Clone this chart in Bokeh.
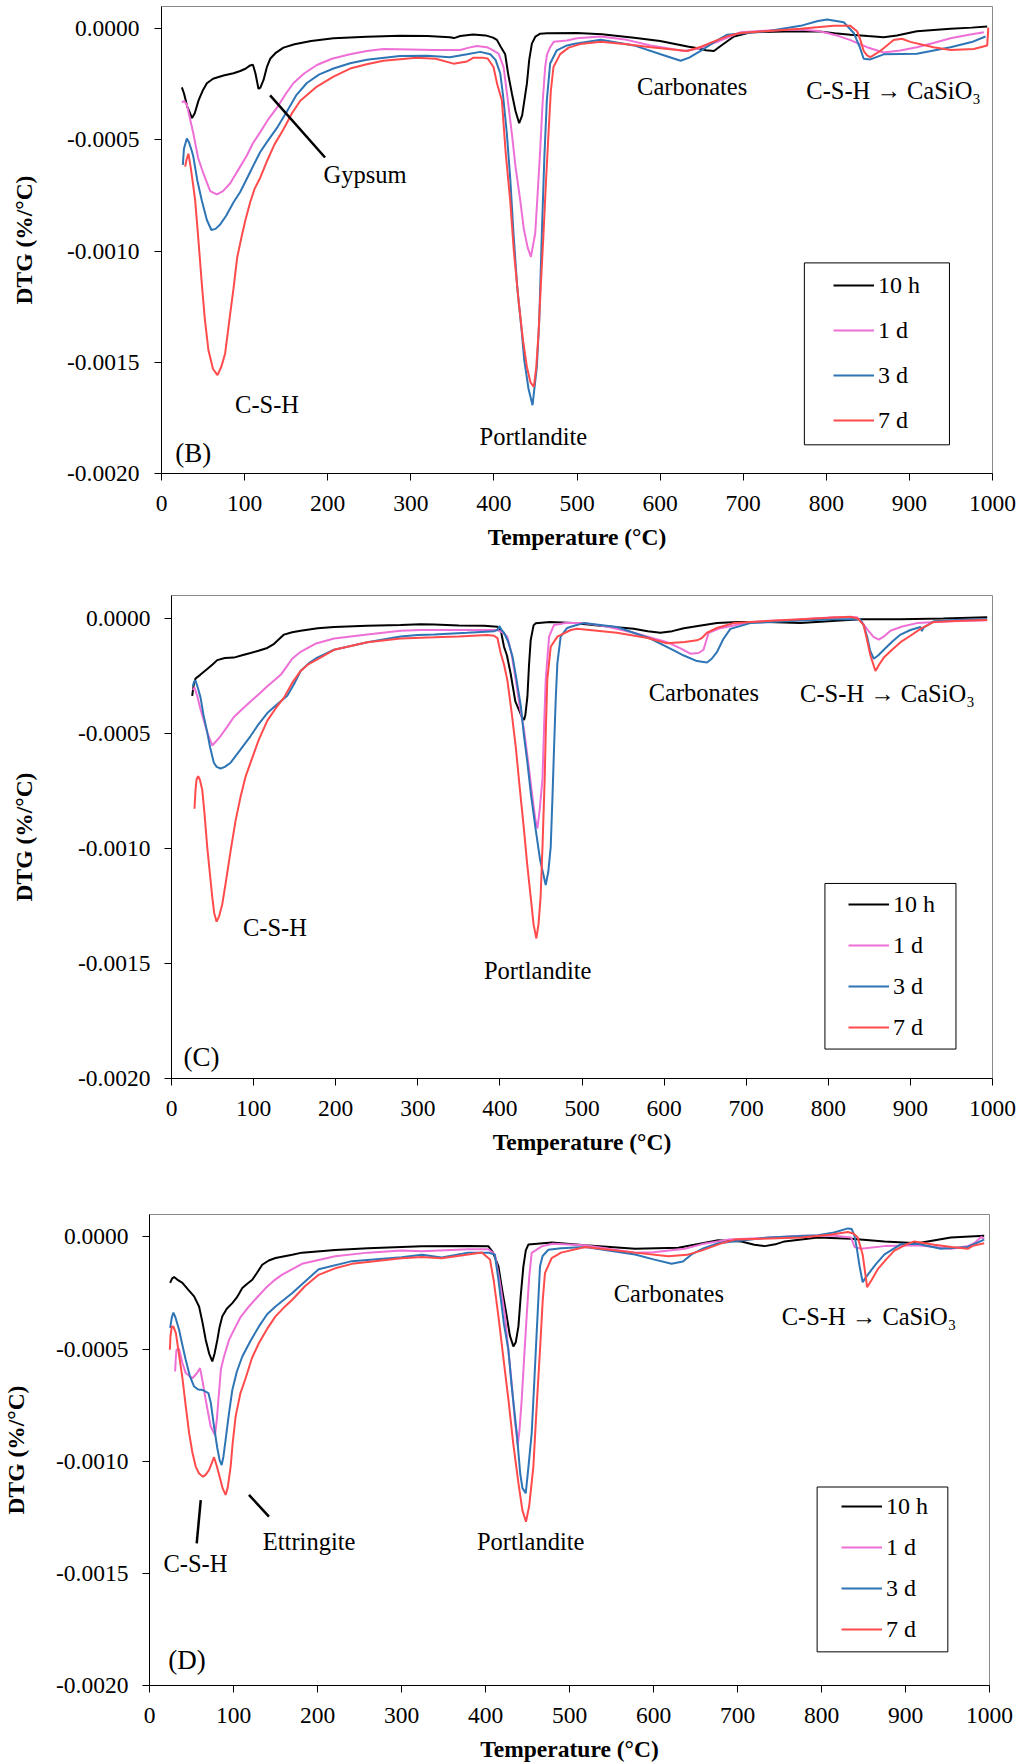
from bokeh.plotting import figure
from bokeh.models import (FixedTicker, Label, Legend, LegendItem, BoxAnnotation,
                          ColumnDataSource, Range1d)
from bokeh.embed import file_html
from bokeh.resources import INLINE

FONT = "Liberation Serif"

# ---------------- common chart data ----------------
series_names = ["10 h", "1 d", "3 d", "7 d"]
series_colors = ["#000000", "#EE6FD6", "#2E75B6", "#FF4B4B"]
x_ticks = [0, 100, 200, 300, 400, 500, 600, 700, 800, 900, 1000]
# DTG values below are in units of 1e-4 %/°C; tick labels show the real values
y_ticks = [-20, -15, -10, -5, 0]
y_tick_labels = ["-0.0020", "-0.0015", "-0.0010", "-0.0005", "0.0000"]
x_title = "Temperature (°C)"
y_title = "DTG (%/°C)"

# ---------------- panel (B) ----------------
b_10h_T = [24.5, 27, 31, 36.7, 40, 44.6, 50, 54.6, 62, 74.6, 86.7, 94.7, 101, 106.7, 110, 113, 116.7, 119, 122.8, 127, 130.8, 137, 146.8, 160, 180, 207, 247, 287, 320, 347, 352, 359.5, 375, 390, 399, 403.6, 408, 413.6, 417, 421.7, 426, 430.4, 434, 439.7, 442.5, 445.7, 450, 455.7, 464, 500, 530, 568.6, 600, 633, 648.8, 655, 664.8, 672, 688.8, 709, 750, 789, 810, 829, 850, 869, 885, 909, 949.5, 975, 993.6]
b_10h_v = [-2.64, -2.9, -3.5, -4.02, -3.8, -3.22, -2.75, -2.45, -2.25, -2.1, -2.0, -1.9, -1.8, -1.65, -1.62, -2.0, -2.7, -2.65, -2.3, -1.7, -1.35, -1.1, -0.85, -0.7, -0.55, -0.43, -0.36, -0.32, -0.33, -0.38, -0.42, -0.33, -0.26, -0.3, -0.4, -0.5, -0.8, -1.15, -2.0, -2.92, -3.7, -4.25, -3.9, -2.47, -1.4, -0.67, -0.35, -0.22, -0.2, -0.19, -0.25, -0.4, -0.55, -0.8, -0.9, -0.97, -1.0, -0.8, -0.35, -0.16, -0.12, -0.11, -0.2, -0.27, -0.33, -0.38, -0.3, -0.11, 0.0, 0.05, 0.1]

b_1d_T = [24.5, 27, 30.5, 34, 38.4, 44, 50.5, 58.6, 66.6, 74, 82.7, 94.7, 102.7, 110, 118.8, 128, 138.8, 150, 158.9, 172, 187, 205, 227, 247, 267, 300, 327, 359.5, 370, 379.5, 391.6, 398, 405.6, 411.6, 416, 421.6, 426, 431.7, 436, 440.5, 444.5, 449.7, 452.5, 455.7, 458.5, 461.7, 464, 467.7, 472, 487.8, 500, 528.5, 560, 588.6, 628.7, 645, 668.8, 684, 696.9, 730, 769, 790, 801, 815, 829, 849, 869, 889, 909, 930, 949.5, 970, 989.6]
b_1d_v = [-3.32, -3.25, -3.4, -4.0, -4.72, -5.8, -6.52, -7.3, -7.45, -7.3, -6.95, -6.2, -5.7, -5.15, -4.65, -4.1, -3.56, -2.9, -2.44, -2.0, -1.63, -1.35, -1.15, -1.0, -0.91, -0.93, -0.96, -0.96, -0.85, -0.78, -0.83, -0.95, -1.12, -1.72, -3.0, -4.72, -6.2, -7.72, -9.0, -9.82, -10.26, -9.21, -7.5, -5.47, -3.4, -1.72, -1.15, -0.83, -0.59, -0.53, -0.43, -0.35, -0.5, -0.75, -1.0, -0.9, -0.59, -0.35, -0.16, -0.08, -0.03, -0.1, -0.19, -0.33, -0.51, -0.83, -1.07, -0.98, -0.83, -0.63, -0.43, -0.28, -0.16]

b_3d_T = [25.7, 27, 30.5, 33, 36.5, 38.4, 43, 48.5, 54.6, 60, 65, 70.6, 78, 86.7, 94.7, 106.7, 118.8, 126.8, 140, 150.9, 162, 174.9, 190, 207, 227, 247, 287, 320, 347, 367.7, 383.6, 395.6, 402, 407.6, 411, 415.6, 419.7, 423.6, 428, 433.7, 436.5, 441.7, 446.5, 451.7, 454.5, 457.7, 460.7, 463.7, 467.7, 475.7, 488, 495.8, 528.5, 568.6, 600.6, 624.7, 635, 648.8, 665, 680.8, 729, 769, 790, 801, 821, 833, 840, 845, 853, 869, 909, 949.5, 975, 991.6]
b_3d_v = [-6.12, -5.4, -4.94, -5.1, -5.5, -5.77, -6.8, -7.72, -8.6, -9.05, -9.0, -8.8, -8.4, -7.8, -7.34, -6.44, -5.54, -5.1, -4.4, -3.72, -3.0, -2.44, -2.05, -1.79, -1.55, -1.39, -1.23, -1.22, -1.28, -1.15, -1.04, -1.15, -1.4, -2.0, -3.0, -4.72, -6.76, -9.21, -11.57, -13.7, -14.9, -16.2, -16.93, -15.2, -13.17, -9.21, -5.8, -3.22, -1.56, -0.97, -0.75, -0.69, -0.5, -0.75, -1.15, -1.44, -1.3, -1.0, -0.6, -0.27, -0.11, 0.13, 0.35, 0.42, 0.29, -0.19, -0.8, -1.35, -1.38, -1.15, -1.12, -0.83, -0.6, -0.35]

b_7d_T = [28.5, 30, 32.4, 35, 38, 40.5, 44, 48.5, 52, 56.5, 62, 67.4, 72, 76.6, 82, 86.6, 91, 96.7, 101, 106.7, 112, 118.8, 126.8, 136, 146.8, 157, 167, 187, 207, 227, 247, 267, 307, 330, 351.4, 367.7, 375.5, 387.6, 392.5, 399.5, 404, 409.6, 414, 419.6, 424, 429.6, 435, 439.7, 444, 448.1, 451, 453.7, 456.5, 459.7, 462.5, 465.7, 468.5, 471.7, 479.7, 490, 503.9, 528.5, 560, 588.6, 633, 650, 668.8, 684, 696.9, 730, 769, 809, 829, 837, 841, 845, 849, 853, 865, 873, 881, 891, 901, 929, 949.5, 977.5, 993.6, 995]
b_7d_v = [-6.2, -5.9, -5.62, -6.2, -7.0, -7.72, -9.3, -11.46, -13.0, -14.46, -15.3, -15.58, -15.2, -14.6, -13.0, -11.7, -10.3, -9.3, -8.6, -7.8, -7.2, -6.7, -5.96, -5.2, -4.52, -3.8, -3.24, -2.6, -2.15, -1.79, -1.6, -1.44, -1.31, -1.35, -1.57, -1.47, -1.3, -1.31, -1.34, -1.72, -2.5, -3.22, -5.5, -7.72, -10.0, -12.21, -14.0, -15.21, -15.9, -16.1, -15.2, -13.7, -11.5, -9.21, -7.0, -4.72, -2.8, -1.72, -1.14, -0.85, -0.69, -0.59, -0.7, -0.83, -1.0, -0.8, -0.51, -0.3, -0.19, -0.1, 0.0, 0.13, 0.13, -0.11, -0.5, -1.0, -1.2, -1.28, -1.0, -0.75, -0.51, -0.45, -0.59, -0.83, -0.96, -0.91, -0.75, 0.05]

# ---------------- panel (C) ----------------
c_10h_T = [25.2, 27, 29.3, 35, 43.5, 50, 55.7, 65, 76, 86, 96.3, 106, 116.7, 125, 137, 147, 157.3, 178, 198, 238, 279, 303.5, 320, 350, 381, 397, 401, 405, 408.6, 413, 418.8, 423.3, 427, 429.4, 431, 433.5, 435.5, 437.5, 441, 443.6, 461, 490, 522, 563, 580, 595.5, 610, 624, 645, 664.5, 690, 725.4, 766, 800, 839, 888, 940, 993.5]
c_10h_v = [-3.36, -2.9, -2.61, -2.45, -2.2, -2.0, -1.81, -1.72, -1.7, -1.6, -1.5, -1.4, -1.28, -1.1, -0.7, -0.6, -0.53, -0.42, -0.37, -0.32, -0.28, -0.25, -0.26, -0.3, -0.32, -0.36, -0.5, -1.23, -1.61, -2.38, -3.6, -3.98, -4.3, -4.41, -4.2, -3.4, -2.0, -0.94, -0.3, -0.21, -0.15, -0.2, -0.32, -0.45, -0.55, -0.62, -0.55, -0.42, -0.3, -0.2, -0.15, -0.15, -0.2, -0.12, -0.03, -0.03, 0.0, 0.05]

c_1d_T = [26, 28, 31.3, 35, 39.4, 44, 49.6, 54, 59.8, 68, 76, 86, 96.3, 106, 116.7, 125, 133, 140, 147, 157.3, 175, 198, 238.6, 279, 303.5, 360.6, 397, 405, 409, 414, 419.3, 424, 429.4, 435, 439.6, 443, 445.7, 448.5, 451.8, 454, 455.8, 459.9, 466, 480, 502, 530, 563, 603.6, 620, 632, 642, 648, 651, 654.3, 668.6, 705, 760, 806.7, 835, 842, 847, 855, 861.5, 867, 875.7, 890, 908, 950, 993.5]
c_1d_v = [-3.11, -3.0, -3.36, -3.9, -4.44, -5.0, -5.52, -5.35, -5.11, -4.7, -4.28, -3.95, -3.61, -3.3, -2.95, -2.7, -2.45, -2.1, -1.75, -1.45, -1.1, -0.87, -0.7, -0.53, -0.5, -0.5, -0.5, -0.65, -0.79, -1.5, -2.67, -3.8, -4.85, -6.4, -7.75, -8.7, -9.13, -8.3, -7.02, -4.5, -2.67, -0.79, -0.28, -0.2, -0.2, -0.35, -0.62, -1.03, -1.3, -1.53, -1.5, -1.36, -1.0, -0.62, -0.42, -0.15, -0.05, 0.05, 0.05, -0.2, -0.45, -0.8, -0.92, -0.8, -0.53, -0.35, -0.2, -0.12, -0.08]

c_3d_T = [26, 27.5, 29.3, 32, 35.4, 39, 43.5, 47, 51.6, 55, 59.8, 65, 72, 84, 96.3, 106, 116.7, 128, 141, 150, 157.3, 167, 177.6, 198, 238.6, 279, 300, 320, 360, 393, 397, 399.4, 402, 405, 410, 415.4, 420, 425.6, 429, 433.6, 438, 443.7, 449, 455.8, 459, 461.9, 464, 466, 468, 470, 474, 481.7, 486.3, 502, 542.6, 583, 610, 624, 640, 652.3, 658, 664.5, 672, 680.7, 705, 760, 806.7, 839, 843, 847.3, 851, 855.4, 861, 867.6, 878, 888, 900, 912.3, 914, 916, 928.5, 960, 993.5]
c_3d_v = [-2.95, -2.75, -2.7, -3.0, -3.44, -4.2, -4.94, -5.6, -6.27, -6.45, -6.52, -6.45, -6.27, -5.7, -5.11, -4.6, -4.11, -3.75, -3.36, -2.8, -2.28, -1.95, -1.7, -1.36, -1.03, -0.78, -0.72, -0.7, -0.62, -0.55, -0.5, -0.33, -0.5, -0.62, -1.0, -1.66, -2.6, -3.83, -5.0, -6.3, -7.7, -9.2, -10.5, -11.59, -11.0, -9.93, -7.8, -5.58, -3.5, -1.95, -0.79, -0.42, -0.36, -0.2, -0.37, -0.87, -1.35, -1.61, -1.85, -1.91, -1.75, -1.45, -0.9, -0.45, -0.2, -0.1, -0.03, -0.03, -0.3, -0.78, -1.4, -1.75, -1.6, -1.36, -1.0, -0.7, -0.5, -0.37, -0.55, -0.4, -0.12, -0.05, -0.03]

c_7d_T = [28, 29.3, 30.5, 32.5, 34.5, 37.4, 40, 43.5, 46.5, 49.6, 52, 54.9, 58, 61.8, 66, 72, 78, 84, 90, 96.3, 106, 116.7, 127, 137, 147, 157.3, 167, 177.6, 198, 238.6, 279, 320, 350, 384.8, 392.8, 397, 401, 405, 409, 414, 419.3, 424, 429.4, 433, 437.5, 441, 444.4, 447, 449.6, 452, 454.5, 456, 457.7, 461.9, 470, 486.3, 494, 542.6, 580, 603.6, 625, 640, 646, 652.3, 665, 684.8, 730, 766, 800, 827, 836, 843, 847, 851.3, 857.4, 862, 867.6, 878, 888, 900, 912.3, 928.5, 960, 993.5]
c_7d_v = [-8.27, -7.44, -7.0, -6.86, -7.0, -7.44, -8.4, -9.93, -11.0, -12.1, -12.8, -13.18, -12.95, -12.43, -11.5, -10.1, -8.8, -7.77, -6.9, -6.27, -5.3, -4.44, -3.9, -3.44, -2.8, -2.28, -1.98, -1.78, -1.36, -1.03, -0.87, -0.82, -0.78, -0.72, -0.75, -0.85, -1.51, -2.0, -2.67, -4.0, -5.58, -7.3, -9.2, -10.6, -12.1, -13.3, -13.91, -13.3, -12.1, -9.8, -7.02, -4.8, -2.67, -1.23, -0.79, -0.5, -0.45, -0.62, -0.85, -1.08, -1.02, -0.95, -0.85, -0.62, -0.4, -0.2, -0.1, -0.03, 0.03, 0.08, 0.0, -0.28, -0.9, -1.61, -2.28, -2.0, -1.7, -1.35, -1.03, -0.75, -0.45, -0.15, -0.1, -0.07]

# ---------------- panel (D) ----------------
d_10h_T = [24.6, 27, 29.3, 33, 39.2, 46, 53.1, 59, 63, 66.9, 71, 74.8, 77.5, 80.8, 83.5, 86.7, 92, 98.6, 104, 110.5, 116, 122.4, 128, 134.2, 142, 150, 169.9, 181.6, 221, 260, 300, 324.3, 379.4, 403.5, 409, 415.4, 420, 425.3, 429, 433.2, 436, 439.2, 442, 445.1, 448, 451, 479, 518.6, 578, 629.5, 655, 677, 704.7, 720, 732.4, 745, 756, 795.7, 835.3, 875, 914.5, 935, 954, 993.7]
d_10h_v = [-2.05, -1.85, -1.79, -1.9, -2.05, -2.35, -2.65, -3.1, -3.8, -4.58, -5.2, -5.55, -5.2, -4.58, -4.0, -3.54, -3.2, -2.95, -2.7, -2.28, -2.1, -1.91, -1.6, -1.24, -1.05, -0.94, -0.79, -0.7, -0.58, -0.5, -0.45, -0.42, -0.41, -0.42, -0.7, -1.31, -2.4, -3.54, -4.4, -4.88, -4.7, -3.99, -2.6, -1.31, -0.6, -0.34, -0.25, -0.37, -0.53, -0.48, -0.3, -0.15, -0.2, -0.35, -0.41, -0.33, -0.2, -0.03, -0.08, -0.2, -0.28, -0.15, -0.03, 0.05]

d_1d_T = [30.5, 31.3, 32.1, 35.2, 39, 43.1, 51, 56, 60.2, 63, 66.9, 72.8, 78, 80, 82.7, 85, 88.7, 94.6, 98.6, 108, 118.4, 128, 138.3, 148, 158, 181.6, 221, 260, 300, 324.3, 379.4, 403.5, 411.4, 417, 423.3, 427, 431.2, 435, 438.4, 440.5, 443.1, 446, 449, 452, 455, 466.9, 480, 518.6, 578, 600, 637.4, 660, 688.8, 730, 776, 815.5, 835.3, 839.3, 847, 875, 914.5, 935, 954, 975, 981.8, 990, 993.7]
d_1d_v = [-6.0, -5.4, -5.03, -5.0, -5.6, -6.07, -6.3, -6.1, -5.85, -6.4, -7.26, -8.45, -8.83, -8.2, -6.96, -5.9, -5.33, -4.6, -4.29, -3.6, -3.1, -2.7, -2.28, -1.95, -1.68, -1.2, -0.86, -0.7, -0.61, -0.64, -0.55, -0.55, -0.8, -2.0, -3.54, -5.0, -6.52, -8.2, -9.27, -8.6, -7.26, -5.4, -3.54, -1.8, -0.71, -0.42, -0.3, -0.37, -0.7, -0.68, -0.53, -0.3, -0.12, -0.05, 0.05, 0.05, -0.03, -0.45, -0.53, -0.41, -0.37, -0.45, -0.53, -0.4, -0.28, 0.0, -0.1]

d_3d_T = [24.6, 26.5, 28.5, 31, 35.2, 39, 43.1, 48, 53.1, 58, 63, 70.1, 73, 76.8, 80.7, 83.5, 85.9, 88, 90.6, 94.5, 98.6, 104, 110.5, 120, 130.3, 140, 150, 170, 201.4, 241, 300, 324.3, 347.8, 379.4, 403, 411, 415.4, 419, 422, 427.3, 431, 437.2, 441.4, 444, 447.9, 451, 455, 458, 460.9, 464.9, 468, 474.8, 490, 518.6, 578, 600, 621.5, 635, 645.3, 660, 677, 736.3, 795.7, 815, 831.4, 836, 839.3, 842, 845.2, 849, 852, 855, 865, 875, 894.7, 914.5, 942.2, 973.9, 993.7]
d_3d_v = [-4.06, -3.6, -3.37, -3.6, -4.14, -4.8, -5.48, -6.2, -6.67, -6.8, -6.82, -6.96, -7.4, -8.45, -9.41, -9.95, -10.17, -9.8, -9.05, -7.9, -6.82, -6.0, -5.33, -4.65, -3.99, -3.45, -3.1, -2.5, -1.44, -1.08, -0.91, -0.79, -0.92, -0.7, -0.7, -0.78, -1.91, -3.0, -3.9, -5.03, -6.6, -8.75, -10.57, -11.2, -11.43, -10.3, -8.75, -6.5, -4.29, -1.31, -0.85, -0.57, -0.5, -0.45, -0.78, -1.0, -1.2, -1.1, -0.78, -0.5, -0.28, -0.03, 0.08, 0.2, 0.38, 0.35, 0.05, -0.5, -1.28, -2.02, -1.85, -1.69, -1.2, -0.78, -0.32, -0.3, -0.53, -0.45, -0.12]

d_7d_T = [24.2, 25, 26.6, 28.5, 31.4, 35, 39.2, 43, 47.2, 51, 55, 59, 63.8, 67, 70.9, 74, 76.8, 80, 83.5, 87, 90.6, 93, 96.6, 99, 102.5, 108, 114.4, 122, 130.3, 140, 150, 160, 170, 185, 201.4, 221, 241, 300, 324.3, 347.8, 379.4, 395.6, 405.4, 410, 415.4, 421, 427.3, 433, 439.2, 444, 448.2, 452, 457, 461, 464.9, 468, 470.8, 478.8, 490, 518.6, 578, 617.6, 640, 657, 680, 696.8, 776, 810, 831.4, 838, 843.2, 849, 852, 854.3, 860, 867, 877, 886.8, 900, 910.5, 934.3, 955, 974, 980, 993.7]
d_7d_v = [-5.03, -4.4, -3.99, -4.0, -4.29, -5.2, -6.3, -7.5, -8.75, -9.6, -10.24, -10.55, -10.69, -10.6, -10.39, -10.1, -9.82, -10.2, -10.69, -11.2, -11.5, -11.2, -10.24, -9.2, -8.01, -7.0, -6.3, -5.4, -4.73, -4.1, -3.54, -3.15, -2.8, -2.2, -1.69, -1.4, -1.2, -0.95, -0.89, -0.95, -0.78, -0.69, -1.01, -2.0, -3.54, -5.3, -7.26, -9.2, -10.98, -12.2, -12.7, -12.0, -10.24, -7.5, -5.03, -2.9, -1.61, -0.94, -0.7, -0.45, -0.7, -0.86, -0.8, -0.61, -0.3, -0.12, -0.03, 0.1, 0.22, 0.15, -0.03, -0.78, -1.6, -2.24, -1.9, -1.44, -1.0, -0.61, -0.35, -0.2, -0.35, -0.45, -0.53, -0.4, -0.28]

# ---------------- annotation texts ----------------
b_notes = [("Gypsum", 195, -6.55, "left"), ("C-S-H", 127, -16.9, "center"),
           ("Portlandite", 447.5, -18.35, "center"), ("Carbonates", 638.6, -2.6, "center"),
           ("C-S-H \u2192 CaSiO\u2083", 881, -2.76, "center")]
c_notes = [("C-S-H", 126, -13.43, "center"), ("Portlandite", 446, -15.29, "center"),
           ("Carbonates", 648.4, -3.2, "center"), ("C-S-H \u2192 CaSiO\u2083", 872, -3.28, "center")]
d_notes = [("C-S-H", 54.6, -14.55, "center"), ("Ettringite", 190, -13.57, "center"),
           ("Portlandite", 453.8, -13.59, "center"), ("Carbonates", 618.3, -2.54, "center"),
           ("C-S-H \u2192 CaSiO\u2083", 856.5, -3.54, "center")]
panel_tags = ["(B)", "(C)", "(D)"]

# pointer lines of the annotations
b_gypsum_ptr_T = [130.7, 196.8]
b_gypsum_ptr_v = [-3.0, -5.79]
d_csh_ptr_T = [61.0, 56.2]
d_csh_ptr_v = [-11.73, -13.66]
d_ett_ptr_T = [118.4, 142.2]
d_ett_ptr_v = [-11.5, -12.47]


def make_panel(series, notes, tag, tag_xy, ptrs, height, borders, ylab_standoff,
               yaxis_title_standoff, legend_box, legend_loc, legend_spacing):
    left, right, top, bottom = borders
    p = figure(width=1022, height=height, output_backend="svg", toolbar_location=None,
               x_range=Range1d(0, 1000), y_range=Range1d(-20, 1),
               min_border_left=left, min_border_right=right,
               min_border_top=top, min_border_bottom=bottom)
    p.xgrid.visible = False
    p.ygrid.visible = False
    p.outline_line_color = "#8a8a8a"
    p.outline_line_width = 1
    p.background_fill_color = "white"
    p.border_fill_color = "white"

    for ax in (p.xaxis[0], p.yaxis[0]):
        ax.axis_line_color = "black"
        ax.major_tick_line_color = "black"
        ax.major_tick_in = 0
        ax.major_tick_out = 7
        ax.minor_tick_line_color = None
        ax.major_label_text_font = FONT
        ax.major_label_text_font_size = "23.5px"
        ax.major_label_text_color = "black"
        ax.axis_label_text_font = FONT
        ax.axis_label_text_font_size = "23.5px"
        ax.axis_label_text_font_style = "bold"
        ax.axis_label_text_color = "black"

    p.xaxis.ticker = FixedTicker(ticks=x_ticks)
    p.xaxis.axis_label = x_title
    p.xaxis.major_label_standoff = 15
    p.xaxis.axis_label_standoff = 10

    p.yaxis.ticker = FixedTicker(ticks=y_ticks)
    p.yaxis.major_label_overrides = {t: s for t, s in zip(y_ticks, y_tick_labels)}
    p.yaxis.axis_label = y_title
    p.yaxis.major_label_standoff = ylab_standoff
    p.yaxis.axis_label_standoff = yaxis_title_standoff

    items = []
    for name, color, (T, v) in zip(series_names, series_colors, series):
        src = ColumnDataSource(dict(T=T, dtg=v))
        r = p.line("T", "dtg", source=src, line_color=color, line_width=2)
        items.append(LegendItem(label=name, renderers=[r]))

    for (pt, pv) in ptrs:
        p.line(pt, pv, line_color="black", line_width=2.5)

    for text, x, y, align in notes:
        p.add_layout(Label(x=x, y=y, text=text, text_font=FONT, text_font_size="24.5px",
                           text_align=align, text_baseline="middle", text_color="black"))
    p.add_layout(Label(x=tag_xy[0], y=tag_xy[1], text=tag, text_font=FONT,
                       text_font_size="27px", text_align="left", text_baseline="middle",
                       text_color="black"))

    bl, br, bt, bb = legend_box
    p.add_layout(BoxAnnotation(left=bl, right=br, top=bt, bottom=bb, fill_alpha=0,
                               line_color="black", line_width=1, line_alpha=1))
    legend = Legend(items=items, location=legend_loc, orientation="vertical",
                    border_line_alpha=0, background_fill_alpha=0, padding=0, margin=0,
                    spacing=legend_spacing, glyph_width=41, glyph_height=30,
                    label_height=30, label_standoff=4, label_text_font=FONT,
                    label_text_font_size="24px", label_text_color="black")
    p.add_layout(legend)
    return p


pB = make_panel([(b_10h_T, b_10h_v), (b_1d_T, b_1d_v), (b_3d_T, b_3d_v), (b_7d_T, b_7d_v)],
                b_notes, panel_tags[0], (16.5, -19.1),
                [(b_gypsum_ptr_T, b_gypsum_ptr_v)],
                560, (161, 30, 6, 87), 15, 27,
                (773.6, 948.2, -10.53, -18.71), (672, 38), 15)

pC = make_panel([(c_10h_T, c_10h_v), (c_1d_T, c_1d_v), (c_3d_T, c_3d_v), (c_7d_T, c_7d_v)],
                c_notes, panel_tags[1], (14.6, -19.06), [],
                610, (171, 30, 35, 92), 14, 38,
                (795.9, 955.5, -11.52, -18.72), (677, 36), 11)

pD = make_panel([(d_10h_T, d_10h_v), (d_1d_T, d_1d_v), (d_3d_T, d_3d_v), (d_7d_T, d_7d_v)],
                d_notes, panel_tags[2], (22.2, -18.87),
                [(d_csh_ptr_T, d_csh_ptr_v), (d_ett_ptr_T, d_ett_ptr_v)],
                594, (147, 33, 44, 78), 14, 24,
                (794.8, 950.4, -11.15, -18.5), (692, 41), 11)

# the three panels are separate roots so that each keeps its own plot-frame position
open("out.html", "w").write(file_html([pB, pC, pD], INLINE))
